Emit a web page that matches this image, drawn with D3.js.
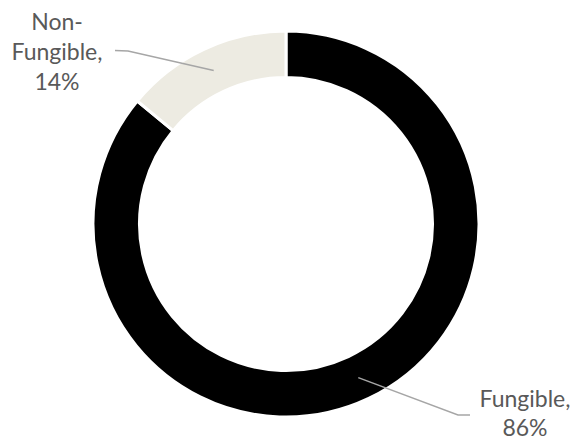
<!DOCTYPE html>
<html>
<head>
<meta charset="utf-8">
<script src="https://cdn.jsdelivr.net/npm/d3@7"></script>
<style>
  html, body { margin: 0; padding: 0; background: #fff; }
  svg { display: block; }
  .label { font-family: Lato, "Open Sans", sans-serif; font-size: 23px; fill: #595959; }
</style>
</head>
<body>
<div id="chart"></div>
<script>
"use strict";

/* Chart data */
const categories = ["Fungible", "Non-Fungible"];
const shares = [86, 14];
const colors = ["#000000", "#EDEBE2"];
/* Label text lines for each slice */
const labelLines = [["Fungible,", "86%"], ["Non-", "Fungible,", "14%"]];

const width = 575, height = 442;
const cx = 286, cy = 224;
const outerR = 193, innerR = 146.5;

const svg = d3.select("#chart").append("svg")
    .attr("width", width)
    .attr("height", height);

const g = svg.append("g")
    .attr("transform", "translate(" + cx + "," + cy + ")");

const data = categories.map(function(c, i) { return {name: c, value: shares[i], color: colors[i], lines: labelLines[i]}; });

const pie = d3.pie()
    .sort(null)
    .value(function(d) { return d.value; });

const arc = d3.arc()
    .innerRadius(innerR)
    .outerRadius(outerR);

const arcs = pie(data);

/* Slices */
g.selectAll(".slice")
    .data(arcs)
  .enter().append("path")
    .attr("class", "slice")
    .attr("d", arc)
    .attr("fill", function(d) { return d.data.color; })
    .attr("stroke", "#fff")
    .attr("stroke-width", 3);

/* Label placement (relative to svg): text anchor point, line step and leader bend */
const labelPos = {
  "Fungible":     {x: 525, y: 407, step: 29, bend: [458, 415], tail: [470, 415]},
  "Non-Fungible": {x: 57,  y: 30,  step: 30, bend: [128, 51],  tail: [115, 50.5]}
};

/* Leader lines from the slice centroid */
const line = d3.line();
g.selectAll(".leader")
    .data(arcs)
  .enter().append("path")
    .attr("class", "leader")
    .attr("fill", "none")
    .attr("stroke", "#A6A6A6")
    .attr("stroke-width", 1.5)
    .attr("d", function(d) {
      let c = arc.centroid(d), p = labelPos[d.data.name];
      return line([c, [p.bend[0] - cx, p.bend[1] - cy], [p.tail[0] - cx, p.tail[1] - cy]]);
    });

/* Labels */
svg.selectAll(".label")
    .data(data)
  .enter().append("text")
    .attr("class", "label")
    .attr("text-anchor", "middle")
    .each(function(d) {
      let p = labelPos[d.name];
      d3.select(this).selectAll("tspan")
          .data(d.lines)
        .enter().append("tspan")
          .attr("x", p.x)
          .attr("y", function(t, i) { return p.y + i * p.step; })
          .text(function(t) { return t; });
    });
</script>
</body>
</html>
